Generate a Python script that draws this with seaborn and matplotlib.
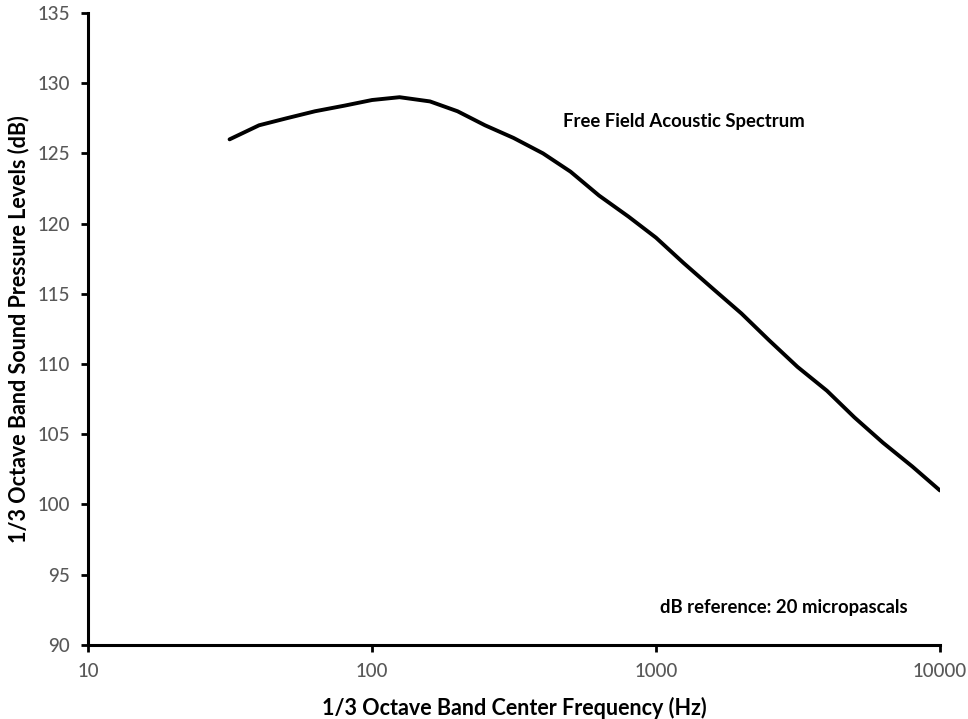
import matplotlib
matplotlib.use("Agg")
import matplotlib.pyplot as plt
import matplotlib.ticker as mticker
import seaborn as sns
import pandas as pd

freq_hz = [31.5, 40, 50, 63, 80, 100, 125, 160, 200, 250, 315, 400, 500, 630,
           800, 1000, 1250, 1600, 2000, 2500, 3150, 4000, 5000, 6300, 8000, 10000]
spl_db = [126.0, 127.0, 127.5, 128.0, 128.4, 128.8, 129.0, 128.7, 128.0, 127.0,
          126.1, 125.0, 123.7, 122.0, 120.5, 119.0, 117.2, 115.3, 113.6, 111.7,
          109.8, 108.1, 106.2, 104.4, 102.7, 101.0]
x_ticks = [10, 100, 1000, 10000]
y_ticks = [90, 95, 100, 105, 110, 115, 120, 125, 130, 135]

sns.set_theme(style="ticks")
plt.rcParams['font.family'] = ['Lato', 'DejaVu Sans']

df = pd.DataFrame({"freq": freq_hz, "spl": spl_db})

fig = plt.figure(figsize=(9.68, 7.19), dpi=100)
ax = fig.add_axes([0.091, 0.103, 0.880, 0.879])
sns.lineplot(data=df, x="freq", y="spl", ax=ax, color="black", linewidth=2.8)

ax.set_xscale("log")
ax.set_xlim(10, 10000)
ax.set_ylim(90, 135)
ax.set_xticks(x_ticks)
ax.xaxis.set_major_formatter(mticker.FuncFormatter(lambda v, p: f"{int(v)}"))
ax.xaxis.set_minor_locator(mticker.NullLocator())
ax.set_yticks(y_ticks)

for s in ["top", "right"]:
    ax.spines[s].set_visible(False)
for s in ["left", "bottom"]:
    ax.spines[s].set_linewidth(2.2)
    ax.spines[s].set_color("black")
ax.tick_params(axis="both", direction="out", length=5, width=2, color="black",
               labelcolor="#595959", labelsize=13.5, pad=8)
for lab in ax.get_xticklabels() + ax.get_yticklabels():
    lab.set_fontweight("medium")

ax.set_xlabel("1/3 Octave Band Center Frequency (Hz)", fontsize=15.5, fontweight="bold",
              color="black", labelpad=12)
ax.set_ylabel("1/3 Octave Band Sound Pressure Levels (dB)", fontsize=15.5, fontweight="bold",
              color="black", labelpad=6)

ax.text(471, 127.3, "Free Field Acoustic Spectrum", fontsize=13.3, fontweight="bold",
        color="black", va="center", ha="left")
ax.text(1033, 92.7, "dB reference: 20 micropascals", fontsize=13.3, fontweight="bold",
        color="black", va="center", ha="left")

fig.savefig("out.png", dpi=100)
